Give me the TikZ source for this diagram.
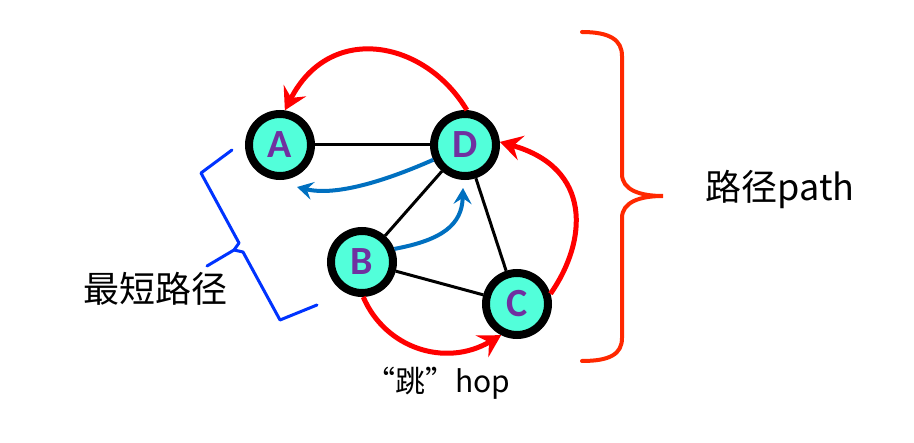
\documentclass[tikz,border=0pt]{standalone}
\usepackage{fontspec}
\setmainfont{Carlito}
\newfontfamily\cjk{Noto Sans CJK SC}
\usetikzlibrary{arrows.meta}
\definecolor{nodefill}{RGB}{82,255,218}
\definecolor{lblpurple}{RGB}{112,48,160}
\definecolor{arrred}{RGB}{255,0,0}
\definecolor{arrblue}{RGB}{0,112,192}
\definecolor{bracered}{RGB}{255,40,0}
\definecolor{braceblue}{RGB}{0,51,255}
\tikzset{
  vtx/.style={circle, draw=black, line width=8pt, fill=nodefill, minimum size=62pt, inner sep=0pt,
    font=\fontsize{40}{40}\selectfont\bfseries, text=lblpurple},
  link/.style={line width=3pt, black},
  redarr/.style={line width=5pt, arrred, -{Stealth[length=22pt,width=25pt,inset=8pt]}},
  bluearr/.style={line width=4pt, arrblue, -{Stealth[length=16pt,width=18pt,inset=6pt]}},
  lbl/.style={font=\cjk\fontsize{36}{36}\selectfont, text=black, inner sep=0pt}
}
\begin{document}
\begin{tikzpicture}[x=1pt,y=-1pt]
\useasboundingbox (0,0) rectangle (914,443);
\node[vtx] (A) at (280,145) {A};
\node[vtx] (D) at (465,145) {D};
\node[vtx] (B) at (362,262) {B};
\node[vtx] (C) at (517,304) {C};
% plain edges
\draw[link] (A) -- (D);
\draw[link] (D) -- (B);
\draw[link] (D) -- (C);
\draw[link] (B) -- (C);
% red paths
\draw[redarr] (D.87) .. controls (425,40) and (330,22) .. (A.82);
\draw[redarr] (C.17) .. controls (588,240) and (592,168) .. (D.5);
\draw[redarr] (B.-88) .. controls (385,348) and (445,368) .. (C.-117);
% blue paths
\coordinate (bA) at (297,187);
\coordinate (bD) at (463,188);
\draw[bluearr] (D.205) .. controls (392,178) and (338,197) .. (bA);
\draw[bluearr] (B.22) .. controls (442,240) and (462,225) .. (bD);
% blue brace
\draw[braceblue, line width=3pt, line join=round, line cap=round]
  (232,150) -- (201,173) -- (239,243) -- (234,250) -- (207,266);
\draw[braceblue, line width=3pt, line join=round, line cap=round]
  (234,250) -- (243,252) -- (280,320) -- (317,305);
% red brace
\draw[bracered, line width=4pt, line cap=round]
  (582,32) .. controls (610,32) and (622,40) .. (622,56) -- (622,174)
  .. controls (622,190) and (640,196) .. (663,196)
  .. controls (640,196) and (622,202) .. (622,218) -- (622,338)
  .. controls (622,354) and (610,361) .. (582,361);
% labels
\node[lbl] (shortest) at (155,289) {最短路径};
\node[lbl] (pathlbl) at (780,189) {路径path};
\node[lbl, font=\cjk\fontsize{30}{30}\selectfont] (hop) at (438,383) {“跳”hop};
\end{tikzpicture}
\end{document}
